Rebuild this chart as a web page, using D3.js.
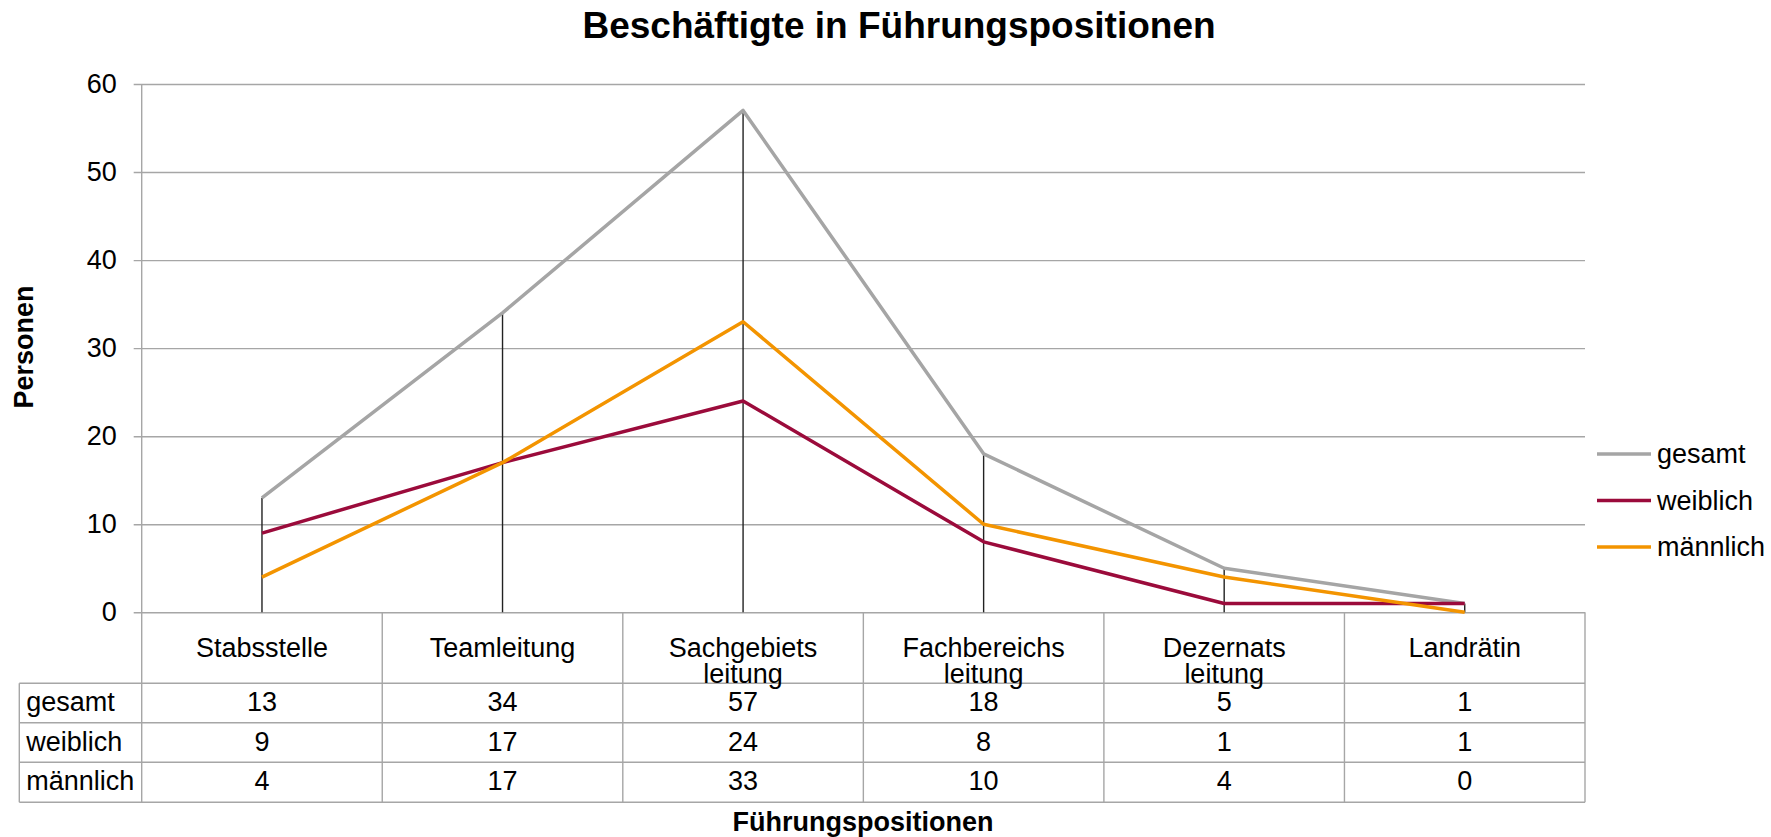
<!DOCTYPE html>
<html>
<head>
<meta charset="utf-8">
<script src="https://cdn.jsdelivr.net/npm/d3@7"></script>
<style>
  body { margin: 0; background: #fff; }
  text { font-family: "Liberation Sans", Arial, sans-serif; fill: #000; }
</style>
</head>
<body>
<script>
// chart values
var categories = [["Stabsstelle"], ["Teamleitung"], ["Sachgebiets", "leitung"], ["Fachbereichs", "leitung"], ["Dezernats", "leitung"], ["Landrätin"]];
var seriesNames = ["gesamt", "weiblich", "männlich"];
var gesamt = [13, 34, 57, 18, 5, 1];
var weiblich = [9, 17, 24, 8, 1, 1];
var maennlich = [4, 17, 33, 10, 4, 0];
var yTicks = [0, 10, 20, 30, 40, 50, 60];
var colors = ["#a5a5a5", "#9b0b3b", "#f39400"];

var W = 1771, H = 837;
var pLeft = 141.7, pRight = 1585, pTop = 84, pBottom = 612.3;
var rowH = [71, 39.5, 39.5, 40];
var labelLeft = 19.3;
var gridColor = "#a6a6a6";

var series = [gesamt, weiblich, maennlich];

var svg = d3.select("body").append("svg").attr("width", W).attr("height", H);

var x = d3.scaleBand().domain(d3.range(categories.length)).range([pLeft, pRight]).padding(0);
var y = d3.scaleLinear().domain([0, 60]).range([pBottom, pTop]);

// title
svg.append("text").attr("x", 899).attr("y", 38).attr("text-anchor", "middle")
  .style("font-size", "37px").style("font-weight", "bold")
  .text("Beschäftigte in Führungspositionen");

// y axis with gridlines
var yAxis = svg.append("g").attr("transform", "translate(" + pLeft + ",0)")
  .call(d3.axisLeft(y).tickValues(yTicks).tickSizeInner(-(pRight - pLeft)).tickSizeOuter(0).tickPadding(25));
yAxis.select(".domain").remove();
yAxis.selectAll(".tick line").attr("x1", -8).attr("stroke", gridColor).attr("stroke-width", 1.4);
yAxis.selectAll(".tick text").style("font-size", "27px").style("font-family", "Liberation Sans, Arial, sans-serif").attr("fill", "#000");
svg.append("line").attr("x1", pLeft).attr("x2", pLeft).attr("y1", pTop).attr("y2", pBottom)
  .attr("stroke", gridColor).attr("stroke-width", 1.4);

// y title
svg.append("text").attr("transform", "translate(33,347) rotate(-90)").attr("text-anchor", "middle")
  .style("font-size", "27px").style("font-weight", "bold").text("Personen");

// drop lines
svg.append("g").selectAll("line").data(gesamt).enter().append("line")
  .attr("x1", function (d, i) { return x(i) + x.bandwidth() / 2; })
  .attr("x2", function (d, i) { return x(i) + x.bandwidth() / 2; })
  .attr("y1", function (d, i) { return y(d3.max(series, function (s) { return s[i]; })); })
  .attr("y2", y(0))
  .attr("stroke", "#222").attr("stroke-width", 1.4);

// series lines
var line = d3.line()
  .x(function (d, i) { return x(i) + x.bandwidth() / 2; })
  .y(function (d) { return y(d); });

svg.append("g").selectAll("path").data(series).enter().append("path")
  .attr("d", line)
  .attr("fill", "none")
  .attr("stroke", function (d, i) { return colors[i]; })
  .attr("stroke-width", 3.5)
  .attr("stroke-linejoin", "round");

// data table
var tbl = svg.append("g");
var yRows = [pBottom];
rowH.forEach(function (h) { yRows.push(yRows[yRows.length - 1] + h); });
var tblBottom = yRows[yRows.length - 1];

// horizontal lines
yRows.forEach(function (yy, k) {
  if (k === 0) return;
  tbl.append("line").attr("x1", labelLeft).attr("x2", pRight)
    .attr("y1", yy).attr("y2", yy).attr("stroke", gridColor).attr("stroke-width", 1.4);
});
// vertical lines
d3.range(categories.length + 1).forEach(function (i) {
  var xx = i < categories.length ? x(i) : pRight;
  tbl.append("line").attr("x1", xx).attr("x2", xx).attr("y1", pBottom).attr("y2", tblBottom)
    .attr("stroke", gridColor).attr("stroke-width", 1.4);
});
tbl.append("line").attr("x1", labelLeft).attr("x2", labelLeft).attr("y1", yRows[1]).attr("y2", tblBottom)
  .attr("stroke", gridColor).attr("stroke-width", 1.4);

// header texts
categories.forEach(function (c, i) {
  var t = tbl.append("text").attr("text-anchor", "middle").style("font-size", "27px");
  c.forEach(function (s, j) {
    t.append("tspan").attr("x", x(i) + x.bandwidth() / 2).attr("y", 657 + j * 26).text(s);
  });
});

// row labels and values
seriesNames.forEach(function (name, r) {
  var base = yRows[r + 1] + 28;
  tbl.append("text").attr("x", labelLeft + 7).attr("y", base).style("font-size", "27px").text(name);
  tbl.selectAll(null).data(series[r]).enter().append("text")
    .attr("x", function (d, i) { return x(i) + x.bandwidth() / 2; })
    .attr("y", base)
    .attr("text-anchor", "middle")
    .style("font-size", "27px")
    .text(function (d) { return d; });
});

// x title
svg.append("text").attr("x", 863).attr("y", 831).attr("text-anchor", "middle")
  .style("font-size", "27px").style("font-weight", "bold").text("Führungspositionen");

// legend
var legY = [454, 500.5, 547];
var leg = svg.append("g").selectAll("g").data(seriesNames).enter().append("g")
  .attr("transform", function (d, i) { return "translate(1597," + legY[i] + ")"; });
leg.append("line").attr("x1", 0).attr("x2", 54).attr("y1", 0).attr("y2", 0)
  .attr("stroke", function (d, i) { return colors[i]; }).attr("stroke-width", 3.5);
leg.append("text").attr("x", 60).attr("y", 0).attr("dy", "0.35em").style("font-size", "27px")
  .text(function (d) { return d; });
</script>
</body>
</html>
